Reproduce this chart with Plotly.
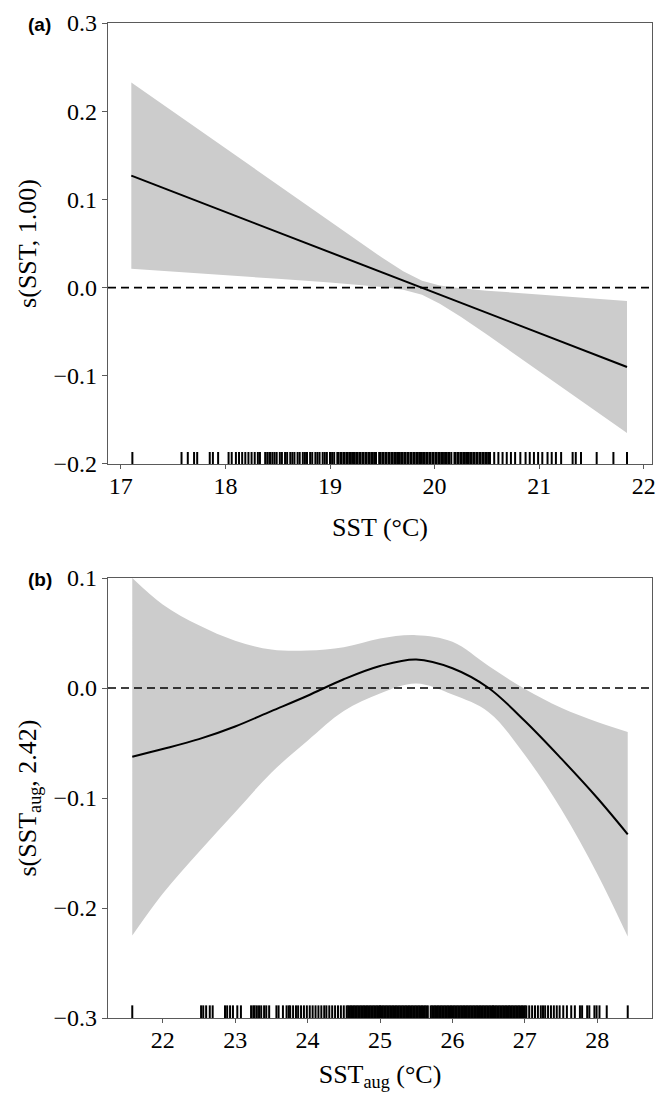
import plotly.graph_objects as go

# ---------------- Panel (a): s(SST, 1.00) ----------------
sst_x = [17.1, 17.5, 18.0, 18.5, 19.0, 19.5, 19.7, 19.88, 20.05, 20.25, 20.5, 21.0, 21.5, 21.84]
sst_fit = [0.127, 0.1087, 0.0858, 0.0629, 0.0401, 0.0172, 0.0080, -0.0002, -0.0080, -0.017, -0.0284, -0.0513, -0.0744, -0.090]
sst_upper = [0.2326, 0.1995, 0.1577, 0.1159, 0.0745, 0.0337, 0.0185, 0.0078, 0.0023, -0.0008, -0.0035, -0.0080, -0.0123, -0.0151]
sst_lower = [0.0214, 0.0179, 0.0139, 0.0099, 0.0057, 0.0007, -0.0025, -0.0082, -0.0183, -0.0332, -0.0533, -0.0946, -0.1365, -0.1649]

sst_rug = [17.11, 17.58, 17.64, 17.70, 17.73, 17.85, 17.88, 17.93, 18.03, 18.06, 18.10, 18.13, 18.16,
           18.19, 18.22, 18.25, 18.28, 18.31, 18.33,
           18.38, 18.40, 18.42, 18.43, 18.45, 18.47, 18.49, 18.52, 18.54, 18.57, 18.59, 18.62, 18.64,
           18.66, 18.69, 18.71, 18.74, 18.76, 18.78, 18.81, 18.83, 18.86, 18.88, 18.90, 18.93, 18.95,
           18.97, 19.00, 19.02, 19.04, 19.07, 19.08, 19.10, 19.11, 19.13, 19.14, 19.16, 19.17, 19.19,
           19.20, 19.22, 19.23, 19.25, 19.26, 19.28, 19.29, 19.31, 19.32, 19.34, 19.35, 19.37, 19.38,
           19.40, 19.41, 19.43, 19.44, 19.47, 19.48, 19.50, 19.51, 19.53, 19.54, 19.56, 19.57, 19.59,
           19.60, 19.62, 19.63, 19.65, 19.66, 19.68, 19.69, 19.71, 19.72, 19.74, 19.75, 19.77, 19.78,
           19.80, 19.81, 19.83, 19.84, 19.86, 19.87, 19.89, 19.90, 19.92, 19.93, 19.95, 19.96, 19.98,
           19.99, 20.01, 20.02, 20.04, 20.05, 20.07, 20.08, 20.10, 20.11, 20.13, 20.14, 20.16, 20.19,
           20.20, 20.22, 20.23, 20.25, 20.26, 20.28, 20.29, 20.31, 20.32, 20.34, 20.35, 20.37, 20.38,
           20.40, 20.41, 20.43, 20.44, 20.46, 20.47, 20.49, 20.50, 20.52, 20.53,
           20.57, 20.61, 20.65, 20.69, 20.73, 20.77, 20.82, 20.87, 20.91, 20.95, 20.99, 21.03, 21.08,
           21.12, 21.16, 21.21, 21.32, 21.35, 21.40, 21.55, 21.71, 21.84]

# ---------------- Panel (b): s(SST_aug, 2.42) ----------------
aug_x = [21.58, 22.0, 22.5, 23.0, 23.5, 24.0, 24.5, 25.0, 25.5, 26.0, 26.5, 27.0, 27.5, 28.0, 28.42]
aug_fit = [-0.0625, -0.0555, -0.0465, -0.035, -0.021, -0.007, 0.008, 0.020, 0.026, 0.018, 0.0, -0.030, -0.064, -0.100, -0.133]
aug_upper = [0.100, 0.076, 0.057, 0.043, 0.035, 0.034, 0.037, 0.045, 0.048, 0.042, 0.020, -0.001, -0.018, -0.031, -0.040]
aug_lower = [-0.225, -0.187, -0.149, -0.113, -0.077, -0.048, -0.021, -0.005, 0.004, -0.006, -0.022, -0.061, -0.110, -0.169, -0.226]

aug_rug = [21.58, 22.53, 22.56, 22.60, 22.65, 22.69, 22.86, 22.89, 22.93, 22.97, 23.03, 23.08,
           23.22, 23.25, 23.27, 23.30, 23.33, 23.36, 23.40, 23.43, 23.47,
           23.57, 23.60, 23.66, 23.71, 23.74, 23.76, 23.80, 23.84, 23.87, 23.91, 23.95, 23.99, 24.03,
           24.07, 24.11, 24.15, 24.19, 24.23, 24.26, 24.30, 24.34, 24.38, 24.42, 24.46, 24.50, 24.54,
           24.56, 24.58, 24.60, 24.62, 24.64, 24.66, 24.68, 24.70, 24.72, 24.74, 24.76, 24.78, 24.80,
           24.82, 24.84, 24.86, 24.88, 24.90, 24.92, 24.94, 24.96, 24.98, 25.00, 25.02, 25.04, 25.06,
           25.08, 25.10, 25.12, 25.14, 25.16, 25.18, 25.20, 25.22, 25.24, 25.26, 25.28, 25.30, 25.32,
           25.34, 25.36, 25.38, 25.40, 25.42, 25.44, 25.46, 25.48, 25.50, 25.52, 25.54, 25.56, 25.58,
           25.60, 25.62, 25.64, 25.66, 25.70, 25.72, 25.74, 25.76, 25.78, 25.80, 25.82, 25.84, 25.86,
           25.88, 25.90, 25.92, 25.94, 25.96, 25.98, 26.00, 26.02, 26.04, 26.06, 26.08, 26.10, 26.12,
           26.14, 26.16, 26.18, 26.20, 26.22, 26.24, 26.26, 26.28, 26.30, 26.32, 26.34, 26.36, 26.38,
           26.40, 26.42, 26.44, 26.46, 26.48, 26.50, 26.52, 26.54, 26.56, 26.58, 26.60, 26.62, 26.64,
           26.66, 26.68, 26.70, 26.72, 26.74, 26.76, 26.78, 26.80, 26.82, 26.84, 26.86, 26.88, 26.90,
           26.92, 26.94, 26.96, 26.98, 27.00,
           27.02, 27.06, 27.10, 27.14, 27.18, 27.22, 27.25, 27.28, 27.32, 27.36, 27.40, 27.44, 27.48,
           27.53, 27.58, 27.64, 27.69, 27.76, 27.79, 27.86, 27.89, 27.96, 27.99, 28.03, 28.13, 28.42]

# ---------------- ticks / labels ----------------
a_xticks = [17, 18, 19, 20, 21, 22]
a_yticks = [-0.2, -0.1, 0.0, 0.1, 0.2, 0.3]
b_xticks = [22, 23, 24, 25, 26, 27, 28]
b_yticks = [-0.3, -0.2, -0.1, 0.0, 0.1]

a_xrange = [16.877, 22.079]
a_yrange = [-0.2, 0.3]
b_xrange = [21.245, 28.755]
b_yrange = [-0.3, 0.1]

BAND = "rgb(204,204,204)"
AX = "#5a5a5a"
SERIF = "Liberation Serif"


def rug_xy(vals, y0, y1):
    xs, ys = [], []
    for v in vals:
        xs += [v, v, None]
        ys += [y0, y1, None]
    return xs, ys


fig = go.Figure()

# panel a
fig.add_trace(go.Scatter(x=sst_x, y=sst_upper, mode="lines", line=dict(width=0, color=BAND),
                         xaxis="x", yaxis="y", showlegend=False, hoverinfo="skip"))
fig.add_trace(go.Scatter(x=sst_x, y=sst_lower, mode="lines", line=dict(width=0, color=BAND),
                         fill="tonexty", fillcolor=BAND, xaxis="x", yaxis="y", showlegend=False,
                         hoverinfo="skip"))
fig.add_trace(go.Scatter(x=a_xrange, y=[0, 0], mode="lines",
                         line=dict(color="black", width=1.6, dash="8px,5px"),
                         xaxis="x", yaxis="y", showlegend=False))
fig.add_trace(go.Scatter(x=sst_x, y=sst_fit, mode="lines", line=dict(color="black", width=2),
                         xaxis="x", yaxis="y", showlegend=False))
rx, ry = rug_xy(sst_rug, a_yrange[0], a_yrange[0] + 0.0136)
fig.add_trace(go.Scatter(x=rx, y=ry, mode="lines", line=dict(color="black", width=2),
                         xaxis="x", yaxis="y", showlegend=False, connectgaps=False))

# panel b
fig.add_trace(go.Scatter(x=aug_x, y=aug_upper, mode="lines", line=dict(width=0, color=BAND, shape="spline"),
                         xaxis="x2", yaxis="y2", showlegend=False, hoverinfo="skip"))
fig.add_trace(go.Scatter(x=aug_x, y=aug_lower, mode="lines", line=dict(width=0, color=BAND, shape="spline"),
                         fill="tonexty", fillcolor=BAND, xaxis="x2", yaxis="y2", showlegend=False,
                         hoverinfo="skip"))
fig.add_trace(go.Scatter(x=b_xrange, y=[0, 0], mode="lines",
                         line=dict(color="black", width=1.6, dash="8px,5px"),
                         xaxis="x2", yaxis="y2", showlegend=False))
fig.add_trace(go.Scatter(x=aug_x, y=aug_fit, mode="lines", line=dict(color="black", width=2, shape="spline"),
                         xaxis="x2", yaxis="y2", showlegend=False))
rx2, ry2 = rug_xy(aug_rug, b_yrange[0], b_yrange[0] + 0.0115)
fig.add_trace(go.Scatter(x=rx2, y=ry2, mode="lines", line=dict(color="black", width=2),
                         xaxis="x2", yaxis="y2", showlegend=False, connectgaps=False))

common = dict(showline=True, linecolor=AX, linewidth=1.2, mirror=True, ticks="outside",
              tickcolor=AX, tickwidth=1.2, showgrid=False, zeroline=False,
              ticklabeloverflow="allow",
              tickfont=dict(family=SERIF, size=24, color="black"))
TFONT = dict(family=SERIF, size=26, color="black")

fig.update_layout(
    width=661, height=1097,
    margin=dict(l=108, r=5, t=23, b=79),
    paper_bgcolor="white", plot_bgcolor="white",
    xaxis=dict(domain=[0, 1], range=a_xrange, anchor="y", tickvals=a_xticks, ticklen=4,
               ticklabelstandoff=-4,
               title=dict(text="SST (°C)", font=TFONT, standoff=19),
               **common),
    yaxis=dict(domain=[0.5568, 1], range=a_yrange, anchor="x", tickvals=a_yticks, tickformat=".1f",
               ticklen=5,
               title=dict(text="s(SST, 1.00)", font=TFONT, standoff=9),
               **common),
    xaxis2=dict(domain=[0, 1], range=b_xrange, anchor="y2", tickvals=b_xticks, ticklen=4,
                ticklabelstandoff=-4,
                title=dict(text="SST<sub>aug</sub> (°C)", font=TFONT, standoff=12),
                **common),
    yaxis2=dict(domain=[0, 0.4422], range=b_yrange, anchor="x2", tickvals=b_yticks, tickformat=".1f",
                ticklen=5,
                title=dict(text="s(SST<sub>aug</sub>, 2.42)", font=TFONT, standoff=9),
                **common),
    annotations=[
        dict(text="<b>(a)</b>", x=-0.1515, y=0.998, xref="paper", yref="paper", xanchor="left",
             yanchor="middle", showarrow=False, font=dict(family="Liberation Sans", size=19, color="black")),
        dict(text="<b>(b)</b>", x=-0.1515, y=0.4412, xref="paper", yref="paper", xanchor="left",
             yanchor="middle", showarrow=False, font=dict(family="Liberation Sans", size=19, color="black")),
    ],
)

fig.write_html("out.html", config={"displayModeBar": False},
               post_script="document.body.style.margin='0';document.body.style.overflow='hidden';")
